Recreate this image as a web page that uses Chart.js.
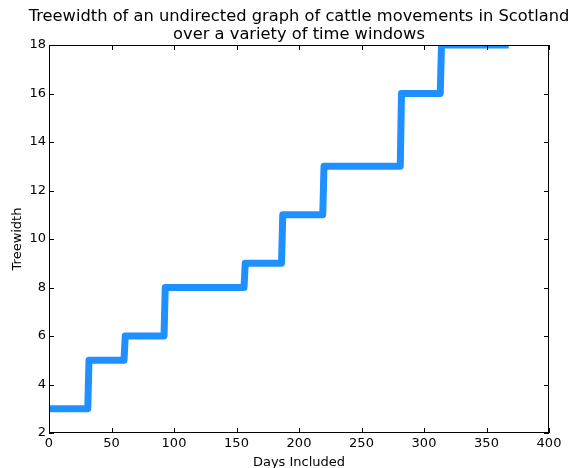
<!DOCTYPE html>
<html>
<head>
<meta charset="utf-8">
<script src="https://cdn.jsdelivr.net/npm/chart.js@4"></script>
<style>
  html, body { margin: 0; padding: 0; background: #fff; }
  #wrap { width: 573px; height: 468px; }
</style>
</head>
<body>
<div id="wrap"><canvas id="chart" width="573" height="468"></canvas></div>
<script>
// --- Treewidth vs. time window ---

const titleLines = ['Treewidth of an undirected graph of cattle movements in Scotland', 'over a variety of time windows'];
const xLabel = 'Days Included';
const yLabel = 'Treewidth';

// corner points of the step curve (day, treewidth)
const days = [0, 31, 32, 60, 61, 92, 93, 156, 157, 186, 187, 219, 220, 281, 282, 313, 314, 365];
const widths = [3, 3, 5, 5, 6, 6, 8, 8, 9, 9, 11, 11, 13, 13, 16, 16, 18, 18];

const xTicks = [0, 50, 100, 150, 200, 250, 300, 350, 400];
const yTicks = [2, 4, 6, 8, 10, 12, 14, 16, 18];

const FONT = 'DejaVu Sans';

// matplotlib-style frame, inward ticks and title
const framePlugin = {
  id: 'frame',
  afterDraw(chart) {
    const { ctx, chartArea: a, scales } = chart;
    ctx.save();
    ctx.strokeStyle = '#000';
    ctx.lineWidth = 1;
    ctx.strokeRect(a.left + 0.5, a.top + 0.5, a.right - a.left - 1, a.bottom - a.top - 1);
    ctx.beginPath();
    xTicks.forEach(v => {
      const px = Math.round(scales.x.getPixelForValue(v)) + 0.5;
      ctx.moveTo(px, a.bottom); ctx.lineTo(px, a.bottom - 5);
      ctx.moveTo(px, a.top); ctx.lineTo(px, a.top + 5);
    });
    yTicks.forEach(v => {
      const py = Math.round(scales.y.getPixelForValue(v)) + 0.5;
      ctx.moveTo(a.left, py); ctx.lineTo(a.left + 5, py);
      ctx.moveTo(a.right, py); ctx.lineTo(a.right - 5, py);
    });
    ctx.stroke();

    ctx.fillStyle = '#000';
    ctx.font = '16.3px ' + FONT;
    ctx.textAlign = 'center';
    ctx.textBaseline = 'middle';
    const cx = (a.left + a.right) / 2;
    ctx.fillText(titleLines[0], cx, 17);
    ctx.fillText(titleLines[1], cx, 35);
    ctx.restore();
  }
};

new Chart(document.getElementById('chart'), {
  type: 'line',
  data: {
    datasets: [{
      data: days.map((d, i) => ({ x: d, y: widths[i] })),
      borderColor: '#1e90ff',
      borderWidth: 7,
      borderJoinStyle: 'round',
      borderCapStyle: 'square',
      pointRadius: 0,
      tension: 0,
      fill: false,
      clip: 0
    }]
  },
  options: {
    responsive: false,
    animation: false,
    layout: { padding: { top: 45, right: 24, left: 0, bottom: 0 } },
    plugins: { legend: { display: false }, tooltip: { enabled: false }, title: { display: false } },
    scales: {
      x: {
        type: 'linear', min: 0, max: 400,
        afterBuildTicks: s => { s.ticks = xTicks.map(v => ({ value: v })); },
        afterFit: s => { s.height = 35; },
        grid: { display: false, drawTicks: false },
        border: { display: false },
        ticks: { color: '#000', font: { family: FONT, size: 13 }, padding: 3, maxRotation: 0 },
        title: { display: true, text: xLabel, color: '#000', font: { family: FONT, size: 13 }, padding: { top: 0, bottom: -2 } }
      },
      y: {
        type: 'linear', min: 2, max: 18,
        afterBuildTicks: s => { s.ticks = yTicks.map(v => ({ value: v })); },
        afterFit: s => { s.width = 49; },
        grid: { display: false, drawTicks: false },
        border: { display: false },
        ticks: { color: '#000', font: { family: FONT, size: 13 }, padding: 3 },
        title: { display: true, text: yLabel, color: '#000', font: { family: FONT, size: 13 }, padding: { top: 10, bottom: 0 } }
      }
    }
  },
  plugins: [framePlugin]
});
</script>
</body>
</html>
